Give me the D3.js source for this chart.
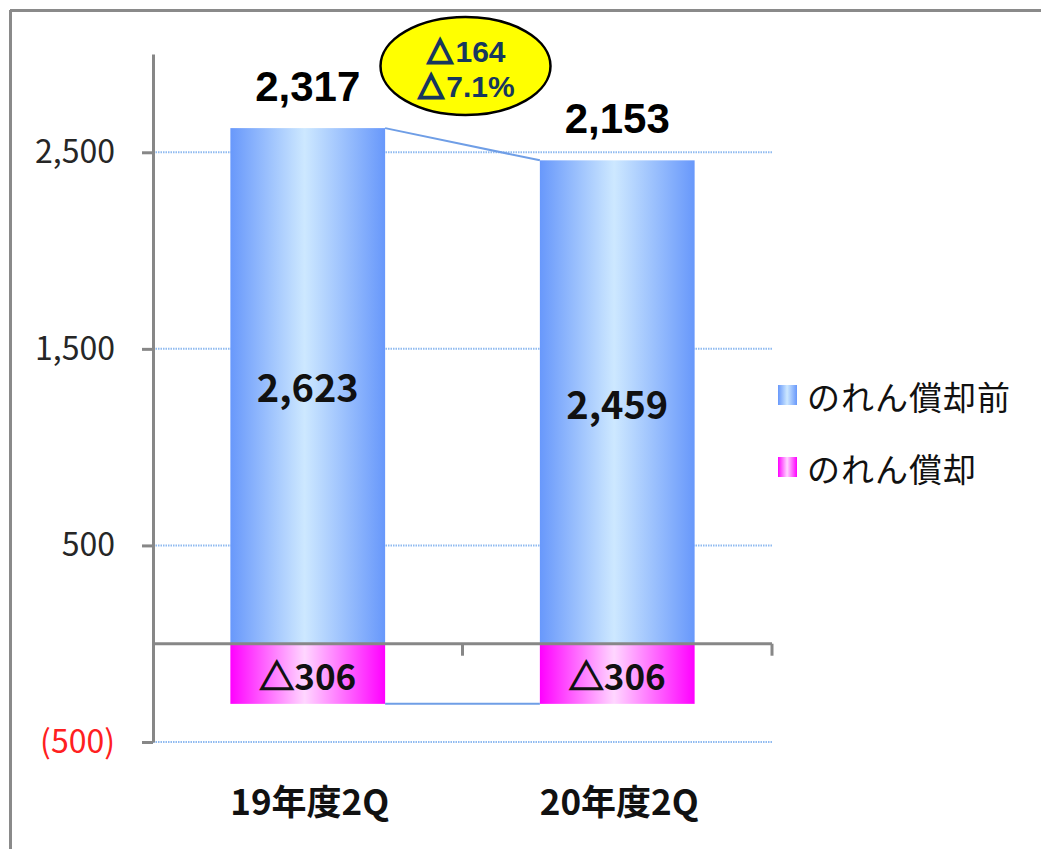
<!DOCTYPE html>
<html lang="ja">
<head>
    <meta charset="UTF-8">
    <title>のれん償却前 比較</title>
    <script src="https://d3js.org/d3.v7.min.js"></script>
    <style>
        body{
            margin: 0;
            background: #fff;
        }
        .axis path,
        .axis line{
            fill: none;
            stroke: #878787;
            stroke-width: 3;
        }
        .axis text{
            font-family: "Noto Sans CJK JP", sans-serif;
            font-size: 32px;
            fill: #262626;
        }
    </style>
</head>
<body>
    <script>
        // data
        var categories = ["19年度2Q", "20年度2Q"];
        var beforeAmort = [2623, 2459];   // のれん償却前
        var amort = [-306, -306];         // のれん償却
        var netTotals = [2317, 2153];
        var yTicks = [-500, 500, 1500, 2500];
        var seriesNames = ["のれん償却前", "のれん償却"];
        var diffLabels = ["164", "7.1%"];   // shown with a leading △

        var w = 1041;
        var h = 849;

        var svg = d3.select("body")
            .append("svg")
            .attr("width", w)
            .attr("height", h);

        // frame (top and left edges only are visible)
        svg.append("line")
            .attr("x1", 10).attr("y1", 10.5).attr("x2", w).attr("y2", 10.5)
            .attr("stroke", "#8a8a8a").attr("stroke-width", 3);
        svg.append("line")
            .attr("x1", 10.5).attr("y1", 10).attr("x2", 10.5).attr("y2", h)
            .attr("stroke", "#8a8a8a").attr("stroke-width", 3);

        // gradients for bars
        var defs = svg.append("defs");
        function gradient(id, edge, mid){
            var g = defs.append("linearGradient")
                .attr("id", id)
                .attr("x1", "0%").attr("x2", "100%")
                .attr("y1", "0%").attr("y2", "0%");
            g.append("stop").attr("offset", "0%").attr("stop-color", edge);
            g.append("stop").attr("offset", "48%").attr("stop-color", mid);
            g.append("stop").attr("offset", "100%").attr("stop-color", edge);
        }
        gradient("gBlue", "#6898fb", "#cde8ff");
        gradient("gPink", "#ff00ff", "#ffd6ff");

        // scales
        var xScale = d3.scaleBand()
            .domain(categories)
            .range([153, 772])
            .paddingInner(0.5)
            .paddingOuter(0.25);

        var yScale = d3.scaleLinear()
            .domain([-500, 3000])
            .range([742, 54]);

        var x0 = xScale.range()[0];
        var x1 = xScale.range()[1];
        var bw = xScale.bandwidth();

        // gridlines
        svg.append("g")
            .selectAll("line")
            .data(yTicks)
            .enter()
            .append("line")
            .attr("x1", x0)
            .attr("x2", x1)
            .attr("y1", d => yScale(d))
            .attr("y2", d => yScale(d))
            .attr("stroke", "#8fbaf0")
            .attr("stroke-width", 2)
            .attr("stroke-dasharray", "1.5 1");

        // bars
        svg.append("g")
            .selectAll("rect")
            .data(beforeAmort)
            .enter()
            .append("rect")
            .attr("x", (d, i) => xScale(categories[i]))
            .attr("y", d => yScale(d))
            .attr("width", bw)
            .attr("height", d => yScale(0) - yScale(d))
            .attr("fill", "url(#gBlue)");

        svg.append("g")
            .selectAll("rect")
            .data(amort)
            .enter()
            .append("rect")
            .attr("x", (d, i) => xScale(categories[i]))
            .attr("y", yScale(0))
            .attr("width", bw)
            .attr("height", d => yScale(d) - yScale(0))
            .attr("fill", "url(#gPink)");

        // series lines between bars
        [beforeAmort, amort].forEach(function(s){
            svg.append("line")
                .attr("x1", xScale(categories[0]) + bw)
                .attr("y1", yScale(s[0]))
                .attr("x2", xScale(categories[1]))
                .attr("y2", yScale(s[1]))
                .attr("stroke", "#6f9ee6")
                .attr("stroke-width", 2);
        });

        // y axis
        var yAxis = d3.axisLeft(yScale)
            .tickValues(yTicks)
            .tickSize(11)
            .tickSizeOuter(0)
            .tickPadding(27)
            .tickFormat(d => d < 0 ? "(" + d3.format(",")(-d) + ")" : d3.format(",")(d));

        var gy = svg.append("g")
            .classed("axis", true)
            .attr("transform", "translate(" + x0 + ",0)")
            .call(yAxis);
        gy.selectAll("text")
            .style("fill", d => d < 0 ? "#ff2020" : "#262626");

        // x axis at zero
        var gx = svg.append("g").classed("axis", true);
        gx.append("line")
            .attr("x1", x0).attr("x2", x1)
            .attr("y1", yScale(0)).attr("y2", yScale(0));
        gx.selectAll(".sep")
            .data([1, 2])
            .enter()
            .append("line")
            .attr("class", "sep")
            .attr("x1", d => x0 + d * xScale.step())
            .attr("x2", d => x0 + d * xScale.step())
            .attr("y1", yScale(0))
            .attr("y2", yScale(0) + 12);

        // category labels
        svg.append("g")
            .selectAll("text")
            .data(categories)
            .enter()
            .append("text")
            .attr("x", d => xScale(d) + bw / 2 + 2)
            .attr("y", 815)
            .attr("text-anchor", "middle")
            .attr("font-family", "'Noto Sans CJK JP', sans-serif")
            .attr("font-weight", "bold")
            .attr("font-size", 35)
            .attr("fill", "#111")
            .text(d => d);

        // labels inside bars
        svg.append("g")
            .selectAll("text")
            .data(beforeAmort)
            .enter()
            .append("text")
            .attr("x", (d, i) => xScale(categories[i]) + bw / 2)
            .attr("y", d => (yScale(d) + yScale(0)) / 2)
            .attr("dominant-baseline", "central")
            .attr("text-anchor", "middle")
            .attr("font-family", "'Noto Sans CJK JP', sans-serif")
            .attr("font-weight", "bold")
            .attr("font-size", 38)
            .attr("fill", "#111")
            .text(d => d3.format(",")(d));

        var negLabels = svg.append("g")
            .selectAll("text")
            .data(amort)
            .enter()
            .append("text")
            .attr("x", (d, i) => xScale(categories[i]) + bw / 2)
            .attr("y", d => (yScale(d) + yScale(0)) / 2)
            .attr("dominant-baseline", "central")
            .attr("text-anchor", "middle")
            .attr("font-family", "'Noto Sans CJK JP', sans-serif")
            .attr("font-weight", "bold")
            .attr("font-size", 35)
            .attr("fill", "#111");
        negLabels.append("tspan")
            .attr("stroke", "#111")
            .attr("stroke-width", 1.4)
            .text("△");
        negLabels.append("tspan")
            .text(d => d3.format(",")(-d));

        // net totals above bars
        svg.append("g")
            .selectAll("text")
            .data(netTotals)
            .enter()
            .append("text")
            .attr("x", (d, i) => xScale(categories[i]) + bw / 2)
            .attr("y", (d, i) => yScale(beforeAmort[i]) - 27)
            .attr("text-anchor", "middle")
            .attr("font-family", "'Liberation Sans', Arial, sans-serif")
            .attr("font-weight", "bold")
            .attr("font-size", 42)
            .attr("fill", "#000")
            .text(d => d3.format(",")(d));

        // difference callout
        var cx = (xScale(categories[0]) + bw + xScale(categories[1])) / 2 + 3;
        svg.append("ellipse")
            .attr("cx", cx)
            .attr("cy", 66)
            .attr("rx", 85)
            .attr("ry", 49)
            .attr("fill", "#ffff00")
            .attr("stroke", "#000")
            .attr("stroke-width", 2.5);
        var callout = svg.append("g")
            .selectAll("text")
            .data(diffLabels)
            .enter()
            .append("text")
            .attr("x", cx)
            .attr("y", (d, i) => 62 + i * 35)
            .attr("text-anchor", "middle")
            .attr("font-family", "'Liberation Sans', Arial, sans-serif")
            .attr("font-weight", "bold")
            .attr("font-size", 30)
            .attr("fill", "#17375e");
        callout.append("tspan")
            .attr("stroke", "#17375e")
            .attr("stroke-width", 1.6)
            .text("△");
        callout.append("tspan")
            .text(d => d);

        // legend
        var legend = svg.append("g")
            .selectAll("g")
            .data(seriesNames)
            .enter()
            .append("g")
            .attr("transform", (d, i) => "translate(778," + (395 + i * 72) + ")");
        legend.append("rect")
            .attr("x", 0)
            .attr("y", -10)
            .attr("width", 19)
            .attr("height", 20)
            .attr("fill", (d, i) => i === 0 ? "url(#gBlue)" : "url(#gPink)");
        legend.append("text")
            .attr("x", 29)
            .attr("y", 1)
            .attr("dominant-baseline", "central")
            .attr("font-family", "'Noto Sans CJK JP', sans-serif")
            .attr("font-size", 33)
            .attr("letter-spacing", 1)
            .attr("fill", "#111")
            .text(d => d);
    </script>
</body>
</html>
